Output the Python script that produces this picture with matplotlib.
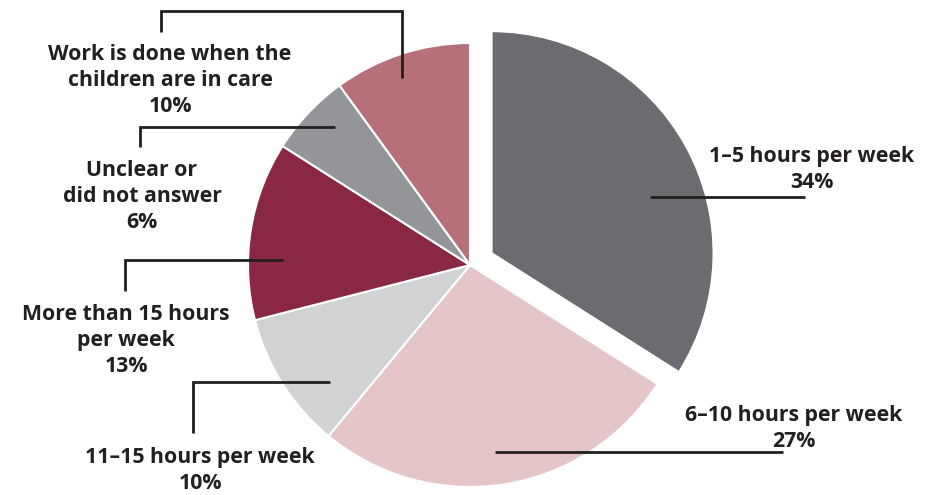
"""
pie of weekly hours spent on work, with boxed leader lines
"""

import matplotlib.pyplot as plt

## data
categories = ['1\u20135 hours per week', '6\u201310 hours per week', '11\u201315 hours per week',
              'More than 15 hours\nper week', 'Unclear or\ndid not answer',
              'Work is done when the\nchildren are in care']
percents = [34, 27, 10, 13, 6, 10]
colors = ['#6b6c70', '#e4c6c9', '#d1d2d4', '#8a2843', '#939598', '#b6707a']
explode = [24.6, 0, 0, 0, 0, 0]   # pie() takes this in data units

W, H = 934, 495


def yy(y):
    # pixel row (top-down) -> axes y (bottom-up)
    return H - y


fig = plt.figure(figsize=(W / 100, H / 100), dpi=100)
ax = fig.add_axes([0, 0, 1, 1])

ax.pie(percents, colors=colors, explode=explode, startangle=90, counterclock=False,
       radius=222, center=(470, yy(265)),
       wedgeprops=dict(edgecolor='white', linewidth=1.5))

ax.set_xlim(0, W)
ax.set_ylim(0, H)
ax.set_aspect('equal')
ax.axis('off')

## leader lines (pixel coords, top-down)
LC = '#231f20'
LW = 2.0
leaders = [
    [(650, 197), (805, 197)],                       # 1-5
    [(495, 452), (783, 452)],                       # 6-10
    [(193, 433), (193, 382), (330, 382)],           # 11-15
    [(125, 291), (125, 260), (283, 260)],           # >15
    [(140, 147), (140, 127), (335, 127)],           # unclear
    [(161, 32), (161, 11), (402, 11), (402, 78)],   # work in care
]
for pts in leaders:
    xs = [p[0] for p in pts]
    ys = [yy(p[1]) for p in pts]
    ax.plot(xs, ys, color=LC, lw=LW, solid_capstyle='butt', solid_joinstyle='miter')

## labels (center x, baseline of the percent line)
label_pos = [(812, 188), (794, 447), (200, 489), (126, 372), (142, 228), (170, 112)]
for cat, pct, (x, y) in zip(categories, percents, label_pos):
    ax.text(x, yy(y), '{}\n{}%'.format(cat, pct), ha='center', va='baseline',
            fontsize=15.3, fontweight='bold', color=LC, family='Open Sans',
            linespacing=1.3)

fig.savefig('out.png', dpi=100)
